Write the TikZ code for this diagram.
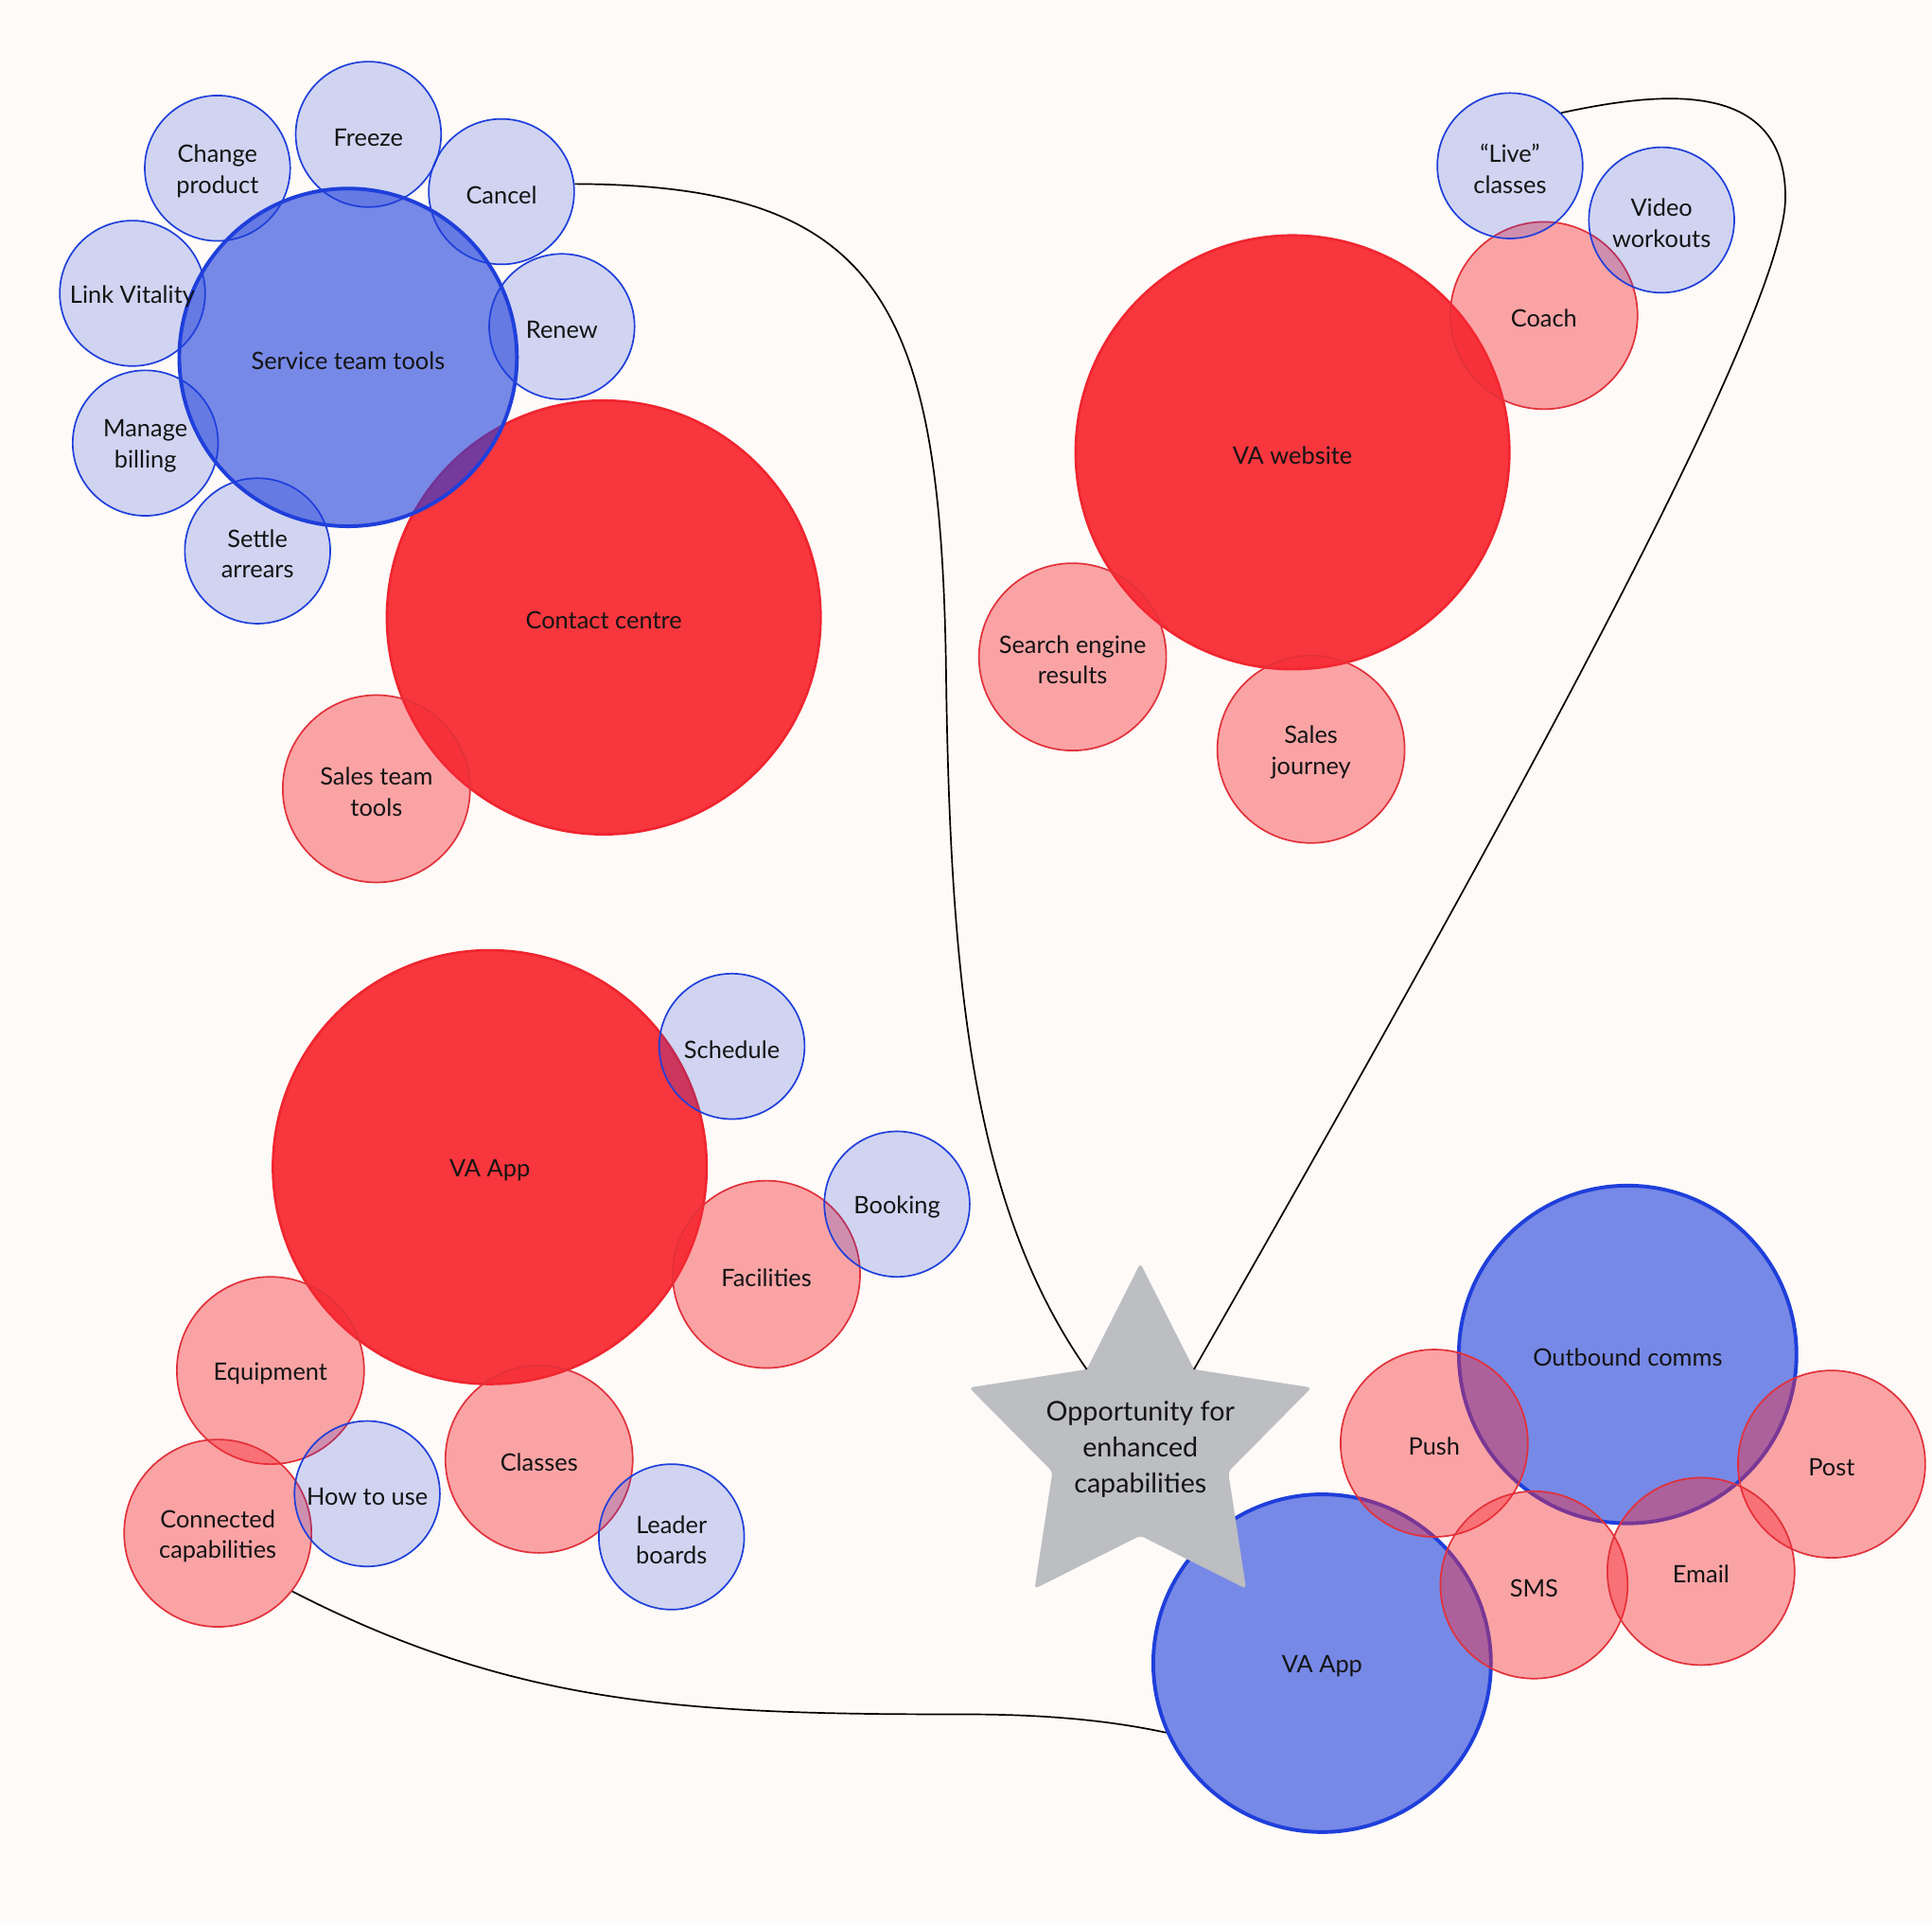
\documentclass[tikz,border=0pt]{standalone}
\usepackage{fontspec}
\setmainfont{Lato}
\usetikzlibrary{calc}
\definecolor{bg}{HTML}{FDFAF7}
\definecolor{vred}{HTML}{F72C35}
\definecolor{vredline}{HTML}{F0252F}
\definecolor{lredline}{HTML}{E2313A}
\definecolor{vblue}{HTML}{1F3FDB}
\definecolor{stargray}{HTML}{BCBEC2}
\definecolor{ink}{HTML}{141414}
\tikzset{
  lbl/.style={align=center, text=ink, inner sep=0pt, yshift=-2.5pt, font=\fontsize{19.5}{25}\selectfont},
  txt/.style={label={[lbl]center:{#1}}},
  bigred/.style={circle, inner sep=0pt, minimum size=352pt, fill=vred, fill opacity=.95, draw=vredline, line width=2pt},
  bigblue/.style={circle, inner sep=0pt, minimum size=274pt, fill=vblue, fill opacity=.6, draw=vblue, line width=3pt},
  smallred/.style={circle, inner sep=0pt, minimum size=152pt, fill=vred, fill opacity=.42, draw=lredline, line width=1.3pt},
  smallblue/.style={circle, inner sep=0pt, minimum size=118pt, fill=vblue, fill opacity=.2, draw=vblue, line width=1.3pt},
  link/.style={draw=black, line width=1.3pt},
}
\begin{document}
\begin{tikzpicture}[x=1pt,y=-1pt]
\fill[bg] (0,0) rectangle (1568,1560);
\useasboundingbox (0,0) rectangle (1568,1560);

% big red circles
\node[bigred, txt={Contact centre}] (contact) at (490,501) {};
\node[bigred, txt={VA website}] (vaweb) at (1049,367) {};
\node[bigred, txt={VA App}] (vaapp) at (397.5,947) {};

% big blue circles
\node[bigblue, txt={Service team tools}] (service) at (282.5,290) {};
\node[bigblue, txt={Outbound comms}] (outbound) at (1321,1099) {};
\node[bigblue, txt={VA App}] (vaappb) at (1073,1349.5) {};

% light red circles
\node[smallred, txt={Sales team\\tools}] (sales) at (305.5,640) {};
\node[smallred, txt={Coach}] (coach) at (1253,256) {};
\node[smallred, txt={Search engine\\results}] (search) at (870.5,533) {};
\node[smallred, txt={Sales\\journey}] (journey) at (1064,608) {};
\node[smallred, txt={Facilities}] (facilities) at (622,1034) {};
\node[smallred, txt={Equipment}] (equipment) at (219.5,1112) {};
\node[smallred, txt={Classes}] (classes) at (437.5,1184) {};
\node[smallred, txt={Connected\\capabilities}] (connected) at (176.75,1244) {};
\node[smallred, txt={Push}] (push) at (1164,1171) {};
\node[smallred, txt={Post}] (post) at (1486.5,1188) {};
\node[smallred, txt={SMS}] (sms) at (1245,1286) {};
\node[smallred, txt={Email}] (email) at (1380.5,1275) {};

% light blue circles
\node[smallblue, txt={Freeze}] (freeze) at (299,109) {};
\node[smallblue, txt={Change\\product}] (change) at (176.5,136.5) {};
\node[smallblue, txt={Cancel}] (cancel) at (407,155.5) {};
\node[smallblue, txt={Link Vitality}] (linkv) at (107.5,238) {};
\node[smallblue, txt={Renew}] (renew) at (456,265) {};
\node[smallblue, txt={Manage\\billing}] (billing) at (118,359.5) {};
\node[smallblue, txt={Settle\\arrears}] (settle) at (209,447) {};
\node[smallblue, txt={“Live”\\classes}] (live) at (1225.5,134.5) {};
\node[smallblue, txt={Video\\workouts}] (video) at (1348.5,178.5) {};
\node[smallblue, txt={Schedule}] (schedule) at (594,849) {};
\node[smallblue, txt={Booking}] (booking) at (728,977) {};
\node[smallblue, txt={How to use}] (howto) at (298,1212) {};
\node[smallblue, txt={Leader\\boards}] (leader) at (545,1247) {};

% star
\coordinate (starA) at (882.0,1111.1);
\coordinate (starB) at (969.0,1111.1);
\fill[stargray, rounded corners=3pt]
  (925.5,1025) -- (starB) -- (1064.4,1125.9) -- (996.8,1194.2)
  -- (1011.3,1289.1) -- (925.5,1246) -- (839.7,1289.1) -- (854.2,1194.2)
  -- (786.6,1125.9) -- (starA) -- cycle;
\node[align=center, text=ink, font=\fontsize{22}{29.5}\selectfont] (star) at (925.5,1176) {Opportunity for\\enhanced\\capabilities};

% connectors
\draw[link] (cancel.6) .. controls (720,150) and (765,250) .. (768,560)
  .. controls (772,800) and (790,980) .. (starA);
\draw[link] (live.46) .. controls (1340,76) and (1449,60) .. (1449,160)
  .. controls (1449,250) and (1250,620) .. (starB);
\draw[link] (connected.-38) .. controls (420,1385) and (560,1391) .. (784,1391)
  .. controls (860,1391) and (910,1398) .. (vaappb.204);
\end{tikzpicture}
\end{document}
